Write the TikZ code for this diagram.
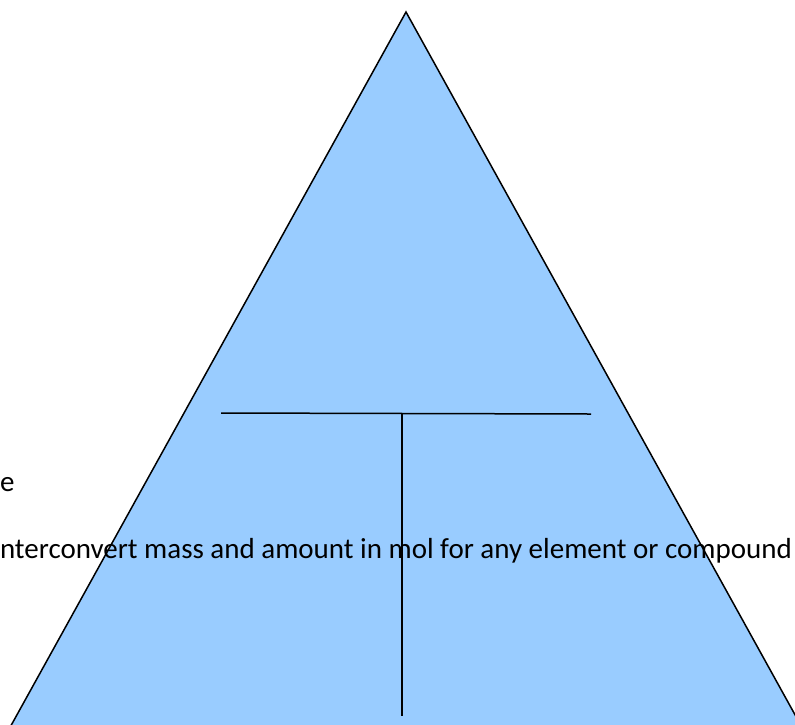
\documentclass[tikz,border=0pt]{standalone}
\usepackage{fontspec}
\setmainfont{Carlito}
\definecolor{triblue}{HTML}{99CCFF}
\tikzset{
  edge/.style={draw=black, line width=1.5pt, line join=miter},
  txt/.style={inner sep=0pt, outer sep=0pt, anchor=base west, font=\fontsize{29}{34}\selectfont}
}
\begin{document}
\begin{tikzpicture}[x=1pt,y=-1pt]
\useasboundingbox (0,0) rectangle (795,724);
\clip (0,0) rectangle (795,724);
\coordinate (apex) at (406,12);
\coordinate (bl) at (8,731);
\coordinate (br) at (804,731);
\fill[triblue] (apex) -- (br) -- (bl) -- cycle;
\node[txt] (t1) at (0,491) {e};
\node[txt] (t2) at (0,558) {nterconvert mass and amount in mol for any element or compound};
\draw[edge] (bl) -- (apex) -- (br);
\coordinate (hl) at (221,413);
\coordinate (hr) at (591,414);
\coordinate (vt) at (402,414);
\coordinate (vb) at (402,716);
\draw[edge] (hl) -- (hr);
\draw[edge] (vt) -- (vb);
\end{tikzpicture}
\end{document}
